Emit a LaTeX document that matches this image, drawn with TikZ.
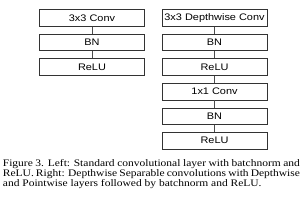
\documentclass[tikz,border=0pt]{standalone}
\usepackage{fontspec}
\setmainfont{Liberation Serif}
\setsansfont{Liberation Sans}
\usepackage{graphicx}
\newcommand\boxtxt[1]{\scalebox{1.15}[1]{#1}}
\newcommand\captxt[1]{\scalebox{1.15}[1]{#1}}
\begin{document}
\begin{tikzpicture}[x=1pt,y=-1pt,
  layer/.style={draw=black!80, line width=0.8pt, minimum width=105pt, minimum height=16.5pt, inner sep=0pt, font=\sffamily\fontsize{9.5}{11}\selectfont},
  link/.style={draw=black!70, line width=0.8pt},
  capline/.style={anchor=base west, inner sep=0pt, font=\fontsize{10}{10}\selectfont}]
\useasboundingbox (0,0) rectangle (307,200);
\node[layer] (a1) at (92,18) {\boxtxt{3x3 Conv}};
\node[layer] (a2) at (92,42.6) {\boxtxt{BN}};
\node[layer] (a3) at (92,67) {\boxtxt{ReLU}};
\node[layer] (b1) at (214.5,18) {\boxtxt{3x3 Depthwise Conv}};
\node[layer] (b2) at (214.5,42.6) {\boxtxt{BN}};
\node[layer] (b3) at (214.5,67) {\boxtxt{ReLU}};
\node[layer] (b4) at (214.5,91.7) {\boxtxt{1x1 Conv}};
\node[layer] (b5) at (214.5,116.2) {\boxtxt{BN}};
\node[layer] (b6) at (214.5,140.7) {\boxtxt{ReLU}};
\draw[link] (a1) -- (a2);
\draw[link] (a2) -- (a3);
\draw[link] (b1) -- (b2);
\draw[link] (b2) -- (b3);
\draw[link] (b3) -- (b4);
\draw[link] (b4) -- (b5);
\draw[link] (b5) -- (b6);
\node[capline] (c1) at (2.7,166) {\captxt{\makebox[258.3pt][s]{Figure 3. Left: Standard convolutional layer with batchnorm and}}};
\node[capline] (c2) at (2.7,176) {\captxt{\makebox[258.3pt][s]{ReLU. Right: Depthwise Separable convolutions with Depthwise}}};
\node[capline] (c3) at (2.7,186.2) {\captxt{and Pointwise layers followed by batchnorm and ReLU.}};
\end{tikzpicture}
\end{document}
